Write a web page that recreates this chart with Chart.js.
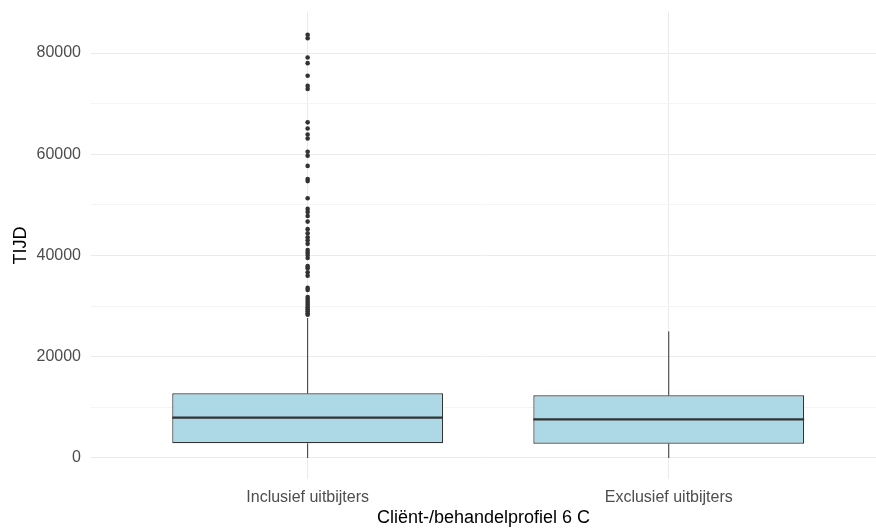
<!DOCTYPE html>
<html>
<head>
<meta charset="utf-8">
<script src="https://cdn.jsdelivr.net/npm/chart.js@4.4.1/dist/chart.umd.min.js"></script>
<style>
  html, body { margin: 0; padding: 0; background: #fff; }
  #boxChart { display: block; }
</style>
</head>
<body>
<canvas id="boxChart" width="876" height="529"></canvas>
<script>
// --- data ---
const CATEGORIES = ['Inclusief uitbijters', 'Exclusief uitbijters'];
const WHISKER_LOW = [0, 0];
const Q1 = [2900, 2830];
const MEDIAN = [7960, 7640];
const Q3 = [12780, 12380];
const WHISKER_HIGH = [27650, 25000];
// outliers only exist for the first group
const OUTLIERS_INCL = [
  83600, 82900, 79100, 78000, 75500, 73500, 72900,
  66300, 65100, 63900, 63100, 60500, 59700, 57700,
  55100, 54700, 51300, 49200, 48600, 47800, 46700,
  45200, 44400, 43600, 43000, 42300, 41100, 40600,
  40100, 39500, 37900, 37500, 36700, 36000, 33600,
  33200, 31800, 31400, 31000, 30600, 30200, 29800,
  29400, 29000, 28600, 28300,
];
const Y_GRID = [0, 10000, 20000, 30000, 40000, 50000, 60000, 70000, 80000];
const Y_LABELS = [0, 20000, 40000, 60000, 80000];

const FILL = '#ADD8E6';
const LINE = '#333333';
const FONT = 'Liberation Sans, Arial, sans-serif';

// whiskers under the boxes, medians on top
const boxExtras = {
  id: 'boxExtras',
  beforeDatasetsDraw(chart) {
    const { ctx, scales: { y } } = chart;
    const bars = chart.getDatasetMeta(0).data;
    ctx.save();
    ctx.strokeStyle = LINE;
    ctx.lineWidth = 1;
    bars.forEach((bar, i) => {
      ctx.beginPath();
      ctx.moveTo(bar.x, y.getPixelForValue(Q3[i]));
      ctx.lineTo(bar.x, y.getPixelForValue(WHISKER_HIGH[i]));
      ctx.moveTo(bar.x, y.getPixelForValue(Q1[i]));
      ctx.lineTo(bar.x, y.getPixelForValue(WHISKER_LOW[i]));
      ctx.stroke();
    });
    ctx.restore();
  },
  afterDatasetsDraw(chart) {
    const { ctx, scales: { y } } = chart;
    const bars = chart.getDatasetMeta(0).data;
    ctx.save();
    ctx.strokeStyle = LINE;
    ctx.lineWidth = 2.2;
    bars.forEach((bar, i) => {
      const py = y.getPixelForValue(MEDIAN[i]);
      ctx.beginPath();
      ctx.moveTo(bar.x - bar.width / 2, py);
      ctx.lineTo(bar.x + bar.width / 2, py);
      ctx.stroke();
    });
    ctx.restore();
  },
};

// drop the label overhang padding chart.js reserves, so the plot area is exact
const noOverhang = (scale) => {
  scale.paddingTop = 0;
  scale.paddingBottom = 0;
  scale.paddingLeft = 0;
  scale.paddingRight = 0;
};

new Chart(document.getElementById('boxChart'), {
  type: 'bar',
  data: {
    datasets: [
      {
        label: 'box',
        data: CATEGORIES.map((_, i) => ({ x: i + 1, y: [Q1[i], Q3[i]] })),
        backgroundColor: FILL,
        borderColor: LINE,
        borderWidth: 1.2,
        borderSkipped: false,
        categoryPercentage: 0.75,
        barPercentage: 1,
        order: 2,
      },
      {
        type: 'scatter',
        label: 'outliers',
        data: OUTLIERS_INCL.map((v) => ({ x: 1, y: v })),
        pointRadius: 2.3,
        pointBackgroundColor: LINE,
        pointBorderWidth: 0,
        order: 1,
      },
    ],
  },
  options: {
    responsive: false,
    animation: false,
    devicePixelRatio: 1,
    layout: { autoPadding: false, padding: { top: 12, right: 0, bottom: 0, left: 0 } },
    plugins: {
      legend: { display: false },
      tooltip: { enabled: false },
    },
    scales: {
      x: {
        type: 'linear',
        min: 0.4,
        max: 2.574,
        offset: false,
        afterBuildTicks: (scale) => {
          scale.ticks = CATEGORIES.map((_, i) => ({ value: i + 1 }));
        },
        afterFit: (scale) => {
          scale.height = 50;
          noOverhang(scale);
        },
        grid: { color: '#ebebeb', lineWidth: 1, drawTicks: false, offset: false },
        border: { display: false },
        ticks: {
          autoSkip: false,
          maxRotation: 0,
          padding: 9,
          color: '#4d4d4d',
          font: { family: FONT, size: 16 },
          callback: (v, i) => CATEGORIES[i],
        },
        title: {
          display: true,
          text: 'Cliënt-/behandelprofiel 6 C',
          color: '#000',
          font: { family: FONT, size: 18 },
          padding: { top: 0, bottom: 0 },
        },
      },
      y: {
        min: -4150,
        max: 88100,
        afterBuildTicks: (scale) => {
          scale.ticks = Y_GRID.map((v) => ({ value: v }));
        },
        afterFit: (scale) => {
          scale.width = 91;
          noOverhang(scale);
        },
        grid: {
          drawTicks: false,
          lineWidth: 1,
          color: (ctx) => (Y_LABELS.includes(ctx.tick.value) ? '#ebebeb' : '#f4f4f4'),
        },
        border: { display: false },
        ticks: {
          autoSkip: false,
          padding: 10,
          color: '#4d4d4d',
          font: { family: FONT, size: 16 },
          callback: (v) => (Y_LABELS.includes(v) ? String(v) : ''),
        },
        title: {
          display: true,
          text: 'TIJD',
          color: '#000',
          font: { family: FONT, size: 18 },
          padding: { top: 10, bottom: 0 },
        },
      },
    },
  },
  plugins: [boxExtras],
});
</script>
</body>
</html>
